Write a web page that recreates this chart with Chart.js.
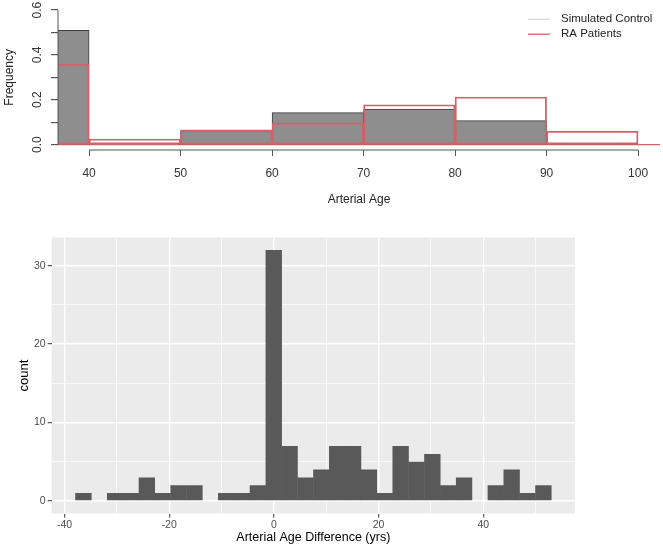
<!DOCTYPE html>
<html>
<head>
<meta charset="utf-8">
<script src="https://cdn.jsdelivr.net/npm/chart.js@4"></script>
<style>
    html, body { margin: 0; padding: 0; background: #fff; }
    #wrap { position: relative; width: 663px; height: 548px; }
    #top { position: absolute; left: 0; top: 0; }
    #bottom { position: absolute; left: 0; top: 220px; }
</style>
</head>
<body>
<div id="wrap">
    <canvas id="top" width="663" height="215"></canvas>
    <canvas id="bottom" width="663" height="328"></canvas>
</div>
<script>
// top panel: relative frequency per 10-year arterial age bin (bin centres)
const ageBins = [35, 45, 55, 65, 75, 85, 95];
const controlFreq = [0.51, 0.002, 0.063, 0.143, 0.158, 0.107, 0.005];
const raFreq = [0.358, 0.025, 0.066, 0.097, 0.178, 0.212, 0.06];
const ageTicks = [40, 50, 60, 70, 80, 90, 100];
const freqTicks = [0, 0.1, 0.2, 0.3, 0.4, 0.5, 0.6];
const freqLabels = [0, 0.2, 0.4, 0.6];

// bottom panel: counts per arterial age difference bin (bin centres, ~3 yrs wide)
const diffBins = [-36.39, -33.36, -30.33, -27.30, -24.27, -21.24, -18.21, -15.18, -12.15, -9.12,
    -6.09, -3.06, -0.03, 3.00, 6.03, 9.06, 12.09, 15.12, 18.15, 21.18,
    24.21, 27.24, 30.27, 33.30, 36.33, 39.36, 42.39, 45.42, 48.45, 51.48];
const diffCounts = [1, 0, 1, 1, 3, 1, 2, 2, 0, 1,
    1, 2, 32, 7, 3, 4, 7, 7, 4, 1,
    7, 5, 6, 2, 3, 0, 2, 4, 1, 2];
const diffTicks = [-40, -30, -20, -10, 0, 10, 20, 30, 40, 50];
const diffMajor = [-40, -20, 0, 20, 40];
const countTicks = [0, 5, 10, 15, 20, 25, 30];
const countMajor = [0, 10, 20, 30];

const raRed = '#D0636A';

Chart.defaults.font.family = '"Liberation Sans", Arial, sans-serif';

const baseAxes = {
    id: 'baseAxes',
    afterDraw(chart) {
        const {ctx, chartArea, scales: {x, y}} = chart;
        ctx.save();
        ctx.strokeStyle = '#555';
        ctx.lineWidth = 1;
        ctx.beginPath();
        ctx.moveTo(chartArea.left, y.getPixelForValue(freqTicks[0]));
        ctx.lineTo(chartArea.left, y.getPixelForValue(freqTicks[freqTicks.length - 1]));
        ctx.moveTo(x.getPixelForValue(ageTicks[0]), chartArea.bottom);
        ctx.lineTo(x.getPixelForValue(ageTicks[ageTicks.length - 1]), chartArea.bottom);
        ctx.stroke();

        ctx.fillStyle = '#333';
        ctx.font = '12px "Liberation Sans", Arial, sans-serif';
        ctx.textAlign = 'center';
        ctx.textBaseline = 'middle';
        freqLabels.forEach(v => {
            ctx.save();
            ctx.translate(chartArea.left - 20, y.getPixelForValue(v));
            ctx.rotate(-Math.PI / 2);
            ctx.fillText(v.toFixed(1), 0, 0);
            ctx.restore();
        });

        // legend, top right
        ctx.font = '11.5px "Liberation Sans", Arial, sans-serif';
        ctx.textAlign = 'left';
        ctx.lineWidth = 1.3;
        chart.data.datasets.forEach((ds, i) => {
            const ly = chartArea.top + 14.5 + i * 15;
            ctx.strokeStyle = ds.legendColor;
            ctx.beginPath();
            ctx.moveTo(chartArea.right - 132, ly);
            ctx.lineTo(chartArea.right - 110, ly);
            ctx.stroke();
            ctx.fillStyle = '#222';
            ctx.fillText(ds.label, chartArea.right - 99, ly);
        });
        ctx.restore();
    }
};

new Chart(document.getElementById('top'), {
    type: 'bar',
    data: {
        datasets: [{
            label: 'Simulated Control',
            data: ageBins.map((b, i) => ({x: b, y: controlFreq[i]})),
            backgroundColor: '#8E8E8E',
            borderColor: '#3C3C3C',
            borderWidth: 1,
            borderSkipped: false,
            grouped: false,
            order: 2,
            legendColor: '#DADADA'
        }, {
            label: 'RA Patients',
            data: ageBins.map((b, i) => ({x: b, y: raFreq[i]})),
            backgroundColor: 'rgba(0,0,0,0)',
            borderColor: raRed,
            borderWidth: 1.2,
            borderSkipped: false,
            grouped: false,
            order: 1,
            legendColor: raRed
        }]
    },
    options: {
        responsive: false,
        animation: false,
        layout: {padding: {top: 4.7, right: 3, left: 0, bottom: 0}},
        datasets: {bar: {barPercentage: 1, categoryPercentage: 1}},
        plugins: {legend: {display: false}, tooltip: {enabled: false}},
        scales: {
            x: {
                type: 'linear',
                min: 36.6,
                max: 102.4,
                offset: false,
                afterBuildTicks: s => { s.ticks = ageTicks.map(v => ({value: v})); },
                afterFit: s => { s.height = 65; },
                grid: {offset: false, drawOnChartArea: false, color: '#555', tickLength: 6},
                border: {display: false},
                ticks: {autoSkip: false, maxRotation: 0, padding: 10.5, color: '#333', font: {size: 12}},
                title: {display: true, text: 'Arterial Age', color: '#222', font: {size: 12}, padding: {top: 0, bottom: 8}}
            },
            y: {
                min: -0.024,
                max: 0.624,
                afterBuildTicks: s => { s.ticks = freqTicks.map(v => ({value: v})); },
                afterFit: s => { s.width = 58; },
                grid: {
                    color: c => (c.tick && c.tick.value === 0) ? raRed : 'rgba(0,0,0,0)',
                    lineWidth: 1.2,
                    tickColor: '#555',
                    tickLength: 7
                },
                border: {display: false},
                ticks: {display: false},
                title: {display: true, text: 'Frequency', color: '#222', font: {size: 12}, padding: {top: 2, bottom: 0}}
            }
        }
    },
    plugins: [baseAxes]
});

const panelBg = {
    id: 'panelBg',
    beforeDraw(chart) {
        const {ctx, chartArea: a} = chart;
        ctx.save();
        ctx.fillStyle = '#EBEBEB';
        ctx.fillRect(a.left, a.top, a.width, a.height);
        ctx.restore();
    }
};

const isMajor = (list) => c => c.tick && list.includes(c.tick.value);

new Chart(document.getElementById('bottom'), {
    type: 'bar',
    data: {
        datasets: [{
            label: 'count',
            data: diffBins.map((b, i) => ({x: b, y: diffCounts[i]})),
            backgroundColor: '#595959',
            borderWidth: 0,
            barPercentage: 1.03,
            categoryPercentage: 1
        }]
    },
    options: {
        responsive: false,
        animation: false,
        layout: {padding: {top: 17.5, right: 88, left: 0, bottom: 0}},
        plugins: {legend: {display: false}, tooltip: {enabled: false}},
        scales: {
            x: {
                type: 'linear',
                min: -42.45,
                max: 57.52,
                offset: false,
                afterBuildTicks: s => { s.ticks = diffTicks.map(v => ({value: v})); },
                afterFit: s => { s.height = 34.5; },
                grid: {
                    offset: false,
                    color: '#FFFFFF',
                    lineWidth: c => isMajor(diffMajor)(c) ? 1.4 : 0.7,
                    tickColor: c => isMajor(diffMajor)(c) ? '#333' : 'rgba(0,0,0,0)',
                    tickLength: 4,
                    tickWidth: 1
                },
                border: {display: false},
                ticks: {
                    autoSkip: false,
                    maxRotation: 0,
                    padding: 1,
                    color: '#4D4D4D',
                    font: {size: 10.5},
                    callback: v => diffMajor.includes(v) ? String(v) : ''
                },
                title: {display: true, text: 'Arterial Age Difference (yrs)', color: '#000', font: {size: 12.5}, padding: {top: 0, bottom: 2.5}}
            },
            y: {
                min: -1.6,
                max: 33.6,
                afterBuildTicks: s => { s.ticks = countTicks.map(v => ({value: v})); },
                afterFit: s => { s.width = 51.7; },
                grid: {
                    color: '#FFFFFF',
                    lineWidth: c => isMajor(countMajor)(c) ? 1.4 : 0.7,
                    tickColor: c => isMajor(countMajor)(c) ? '#333' : 'rgba(0,0,0,0)',
                    tickLength: 4,
                    tickWidth: 1
                },
                border: {display: false},
                ticks: {
                    padding: 2,
                    color: '#4D4D4D',
                    font: {size: 10.5},
                    callback: v => countMajor.includes(v) ? String(v) : ''
                },
                title: {display: true, text: 'count', color: '#000', font: {size: 13}, padding: {top: 17, bottom: 0}}
            }
        }
    },
    plugins: [panelBg]
});
</script>
</body>
</html>
